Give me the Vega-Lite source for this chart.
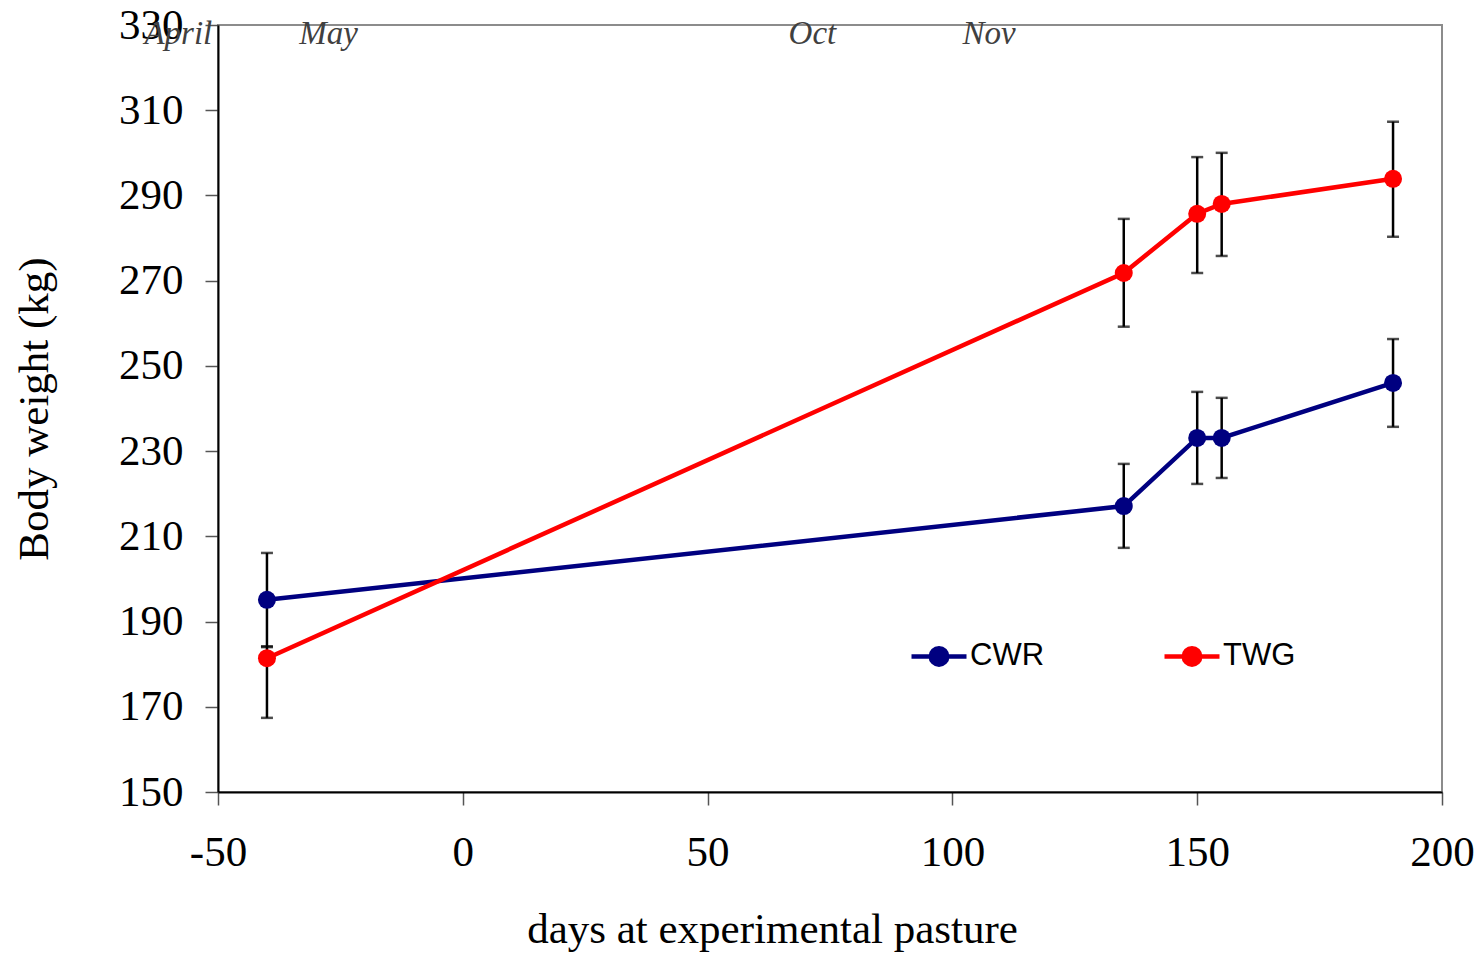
{
  "$schema": "https://vega.github.io/schema/vega-lite/v6.json",
  "autosize": "none",
  "padding": {"left": 218, "top": 25, "right": 37, "bottom": 162},
  "width": 1224,
  "height": 767,
  "background": "white",
  "config": {
    "view": {"stroke": "#8c8c8c", "strokeWidth": 2},
    "font": "Liberation Serif"
  },
  "datasets": {
    "bw": [
      {"group": "CWR", "day": -40, "weight": 195.1, "lo": 184.0, "hi": 206.1},
      {"group": "CWR", "day": 135, "weight": 217.1, "lo": 207.3, "hi": 227.0},
      {"group": "CWR", "day": 150, "weight": 233.1, "lo": 222.3, "hi": 243.9},
      {"group": "CWR", "day": 155, "weight": 233.1, "lo": 223.7, "hi": 242.5},
      {"group": "CWR", "day": 190, "weight": 246.0, "lo": 235.7, "hi": 256.3},
      {"group": "TWG", "day": -40, "weight": 181.4, "lo": 167.4, "hi": 184.2},
      {"group": "TWG", "day": 135, "weight": 271.8, "lo": 259.2, "hi": 284.5},
      {"group": "TWG", "day": 150, "weight": 285.7, "lo": 271.8, "hi": 299.0},
      {"group": "TWG", "day": 155, "weight": 288.0, "lo": 275.8, "hi": 300.0},
      {"group": "TWG", "day": 190, "weight": 293.9, "lo": 280.3, "hi": 307.3}
    ],
    "months": [
      {"month": "April", "day": -58.1, "weight": 327.9},
      {"month": "May", "day": -27.4, "weight": 327.9},
      {"month": "Oct", "day": 71.4, "weight": 327.9},
      {"month": "Nov", "day": 107.5, "weight": 327.9}
    ]
  },
  "encoding": {
    "x": {
      "field": "day", "type": "quantitative",
      "scale": {"domain": [-50, 200], "nice": false, "zero": false},
      "axis": {
        "title": "days at experimental pasture",
        "values": [-50, 0, 50, 100, 150, 200],
        "labelExpr": "datum.value + ''",
        "grid": false,
        "domainColor": "black", "domainWidth": 2,
        "tickColor": "#555555", "tickWidth": 1.5, "tickSize": 13,
        "labelFont": "Liberation Serif", "labelFontSize": 43, "labelColor": "black",
        "labelPadding": 26, "labelFlush": false, "labelOverlap": false,
        "titleFont": "Liberation Serif", "titleFontSize": 43, "titleFontWeight": "normal", "titleColor": "black",
        "titlePadding": 34, "titleAnchor": null, "titleX": 554, "titleAlign": "center"
      }
    },
    "y": {
      "field": "weight", "type": "quantitative",
      "scale": {"domain": [150, 330], "nice": false, "zero": false},
      "axis": {
        "title": "Body weight (kg)",
        "values": [150, 170, 190, 210, 230, 250, 270, 290, 310, 330],
        "grid": false,
        "domainColor": "black", "domainWidth": 2,
        "tickColor": "#555555", "tickWidth": 1.5, "tickSize": 13,
        "labelFont": "Liberation Serif", "labelFontSize": 43, "labelColor": "black",
        "labelPadding": 22, "labelFlush": false, "labelOverlap": false,
        "titleFont": "Liberation Serif", "titleFontSize": 43, "titleFontWeight": "normal", "titleColor": "black",
        "titlePadding": 62
      }
    }
  },
  "layer": [
    {
      "data": {"name": "bw"},
      "mark": {"type": "rule", "color": "black", "strokeWidth": 2.5},
      "encoding": {"y": {"field": "lo", "type": "quantitative"}, "y2": {"field": "hi"}}
    },
    {
      "data": {"name": "bw"},
      "mark": {"type": "tick", "orient": "horizontal", "color": "black", "size": 12, "thickness": 2.5},
      "encoding": {"y": {"field": "lo", "type": "quantitative"}}
    },
    {
      "data": {"name": "bw"},
      "mark": {"type": "tick", "orient": "horizontal", "color": "black", "size": 12, "thickness": 2.5},
      "encoding": {"y": {"field": "hi", "type": "quantitative"}}
    },
    {
      "data": {"name": "bw"},
      "mark": {"type": "line", "strokeWidth": 4.5},
      "encoding": {
        "color": {
          "field": "group", "type": "nominal",
          "scale": {"domain": ["CWR", "TWG"], "range": ["#000080", "#ff0000"]},
          "legend": {
            "title": null,
            "orient": "none",
            "legendX": 691,
            "legendY": 601,
            "direction": "horizontal",
            "symbolType": "M-1,0L1,0M-0.3,0A0.3,0.3,0,1,1,0.3,0A0.3,0.3,0,1,1,-0.3,0Z",
            "symbolSize": 3025,
            "symbolStrokeWidth": 4.5,
            "labelFont": "Liberation Sans",
            "labelFontSize": 31,
            "labelColor": "black",
            "labelOffset": 1,
            "columnPadding": 110
          }
        }
      }
    },
    {
      "data": {"name": "bw"},
      "mark": {"type": "point", "filled": true, "opacity": 1, "size": 324, "shape": "circle"},
      "encoding": {
        "color": {"field": "group", "type": "nominal"}
      }
    },
    {
      "data": {"name": "months"},
      "mark": {"type": "text", "font": "Liberation Serif", "fontStyle": "italic", "fontSize": 33, "color": "#404040", "baseline": "middle", "align": "center", "clip": false},
      "encoding": {"text": {"field": "month"}}
    }
  ]
}
